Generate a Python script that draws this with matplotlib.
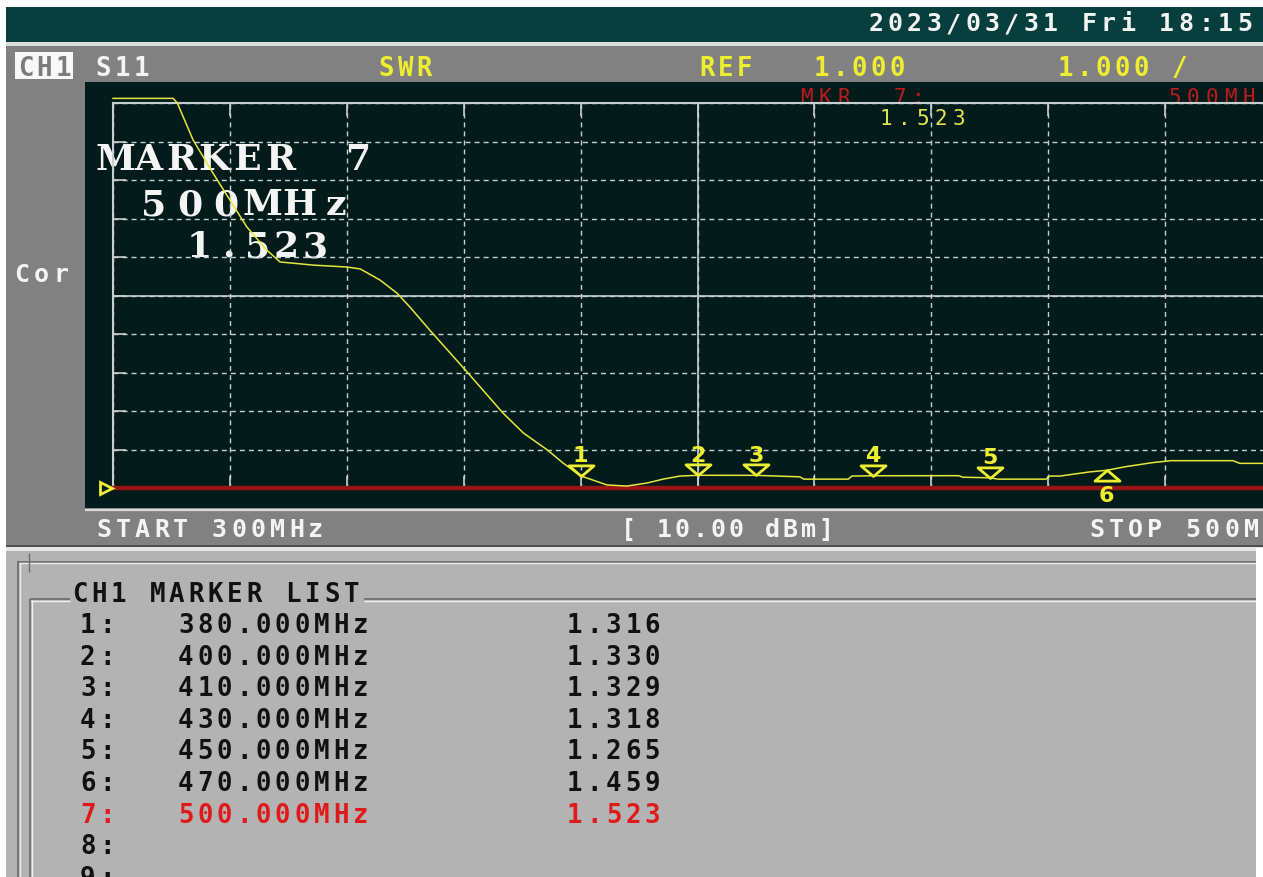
import numpy as np
import matplotlib
matplotlib.use("Agg")
import matplotlib.pyplot as plt
from matplotlib.patches import Rectangle
from matplotlib.path import Path
from matplotlib.transforms import offset_copy

# S11 SWR trace (MHz, SWR); the flat start is clipped by the display
freq = [300.0, 310.3, 311.0, 313.7, 317.1, 320.0, 322.9, 326.3, 328.6, 330.8,
        334.2, 340.0, 342.3, 345.7, 348.6, 350.8, 354.2, 360.6, 366.7, 370.2,
        374.3, 377.0, 380.0, 384.5, 387.9, 391.4, 394.1, 397.0, 400.0, 410.0,
        417.5, 418.2, 425.8, 426.4, 430.0, 444.7, 445.4, 450.0, 451.4, 459.6,
        460.3, 462.0, 467.2, 470.0, 473.1, 477.9, 481.0, 491.6, 492.8, 500.0]
swr = [11.12, 11.12, 11.0, 10.04, 9.18, 8.48, 7.78, 7.18, 6.87, 6.84,
       6.79, 6.74, 6.69, 6.40, 6.06, 5.70, 5.10, 4.01, 2.95, 2.43,
       1.99, 1.65, 1.316, 1.08, 1.05, 1.13, 1.23, 1.31, 1.330, 1.329,
       1.29, 1.23, 1.23, 1.31, 1.318, 1.32, 1.28, 1.265, 1.23, 1.23,
       1.31, 1.31, 1.42, 1.459, 1.55, 1.66, 1.71, 1.71, 1.64, 1.64]

mkr_no = [1, 2, 3, 4, 5, 6, 7]
mkr_freq = [380, 400, 410, 430, 450, 470, 500]
mkr_swr = [1.316, 1.330, 1.329, 1.318, 1.265, 1.459, 1.523]
mkr_up = [False, False, False, False, False, True, False]
active = 7

f_start, f_stop = 300, 500
ref_val, per_div, n_div = 1.0, 1.0, 10
power = "10.00 dBm"
date_str = "2023/03/31 Fri 18:15"

W, H = 1263, 877
TEAL = "#073f3f"
GRAY = "#818181"
LIGHT = "#b3b3b3"
PANEL = "#031b1b"
GRID = "#c6cece"
YEL = "#eeee30"
WHITE = "#f4f4f4"
RED = "#e01a1a"
MONO = "DejaVu Sans Mono"

fig = plt.figure(figsize=(W / 100, H / 100), dpi=100, facecolor="white")
ov = fig.add_axes([0, 0, 1, 1])
ov.set_xlim(0, W)
ov.set_ylim(H, 0)
ov.axis("off")


def box(x0, y0, x1, y1, c):
    ov.add_patch(Rectangle((x0, y0), x1 - x0, y1 - y0, color=c, lw=0))


def line(xs, ys, c, lw=1.2):
    ov.plot(xs, ys, color=c, lw=lw, solid_capstyle="butt")


def mono(x, y, s, pitch, color, size, weight="bold", family=MONO):
    # instrument font is fixed pitch, so place one glyph per cell
    for i, ch in enumerate(s):
        if ch.strip():
            ov.text(x + (i + 0.5) * pitch, y, ch, ha="center", va="baseline",
                    color=color, fontsize=size, fontweight=weight, family=family)


# screen chrome
box(6, 7, W, 42, TEAL)
box(6, 42, W, 46, "#dcdcdc")
box(6, 46, W, 545, GRAY)
box(85, 82, W, 508, PANEL)
line([85, W], [509.5, 509.5], "#dadada", 1.6)
box(6, 545, W, 547, "#505050")
box(6, 547, W, 551, "#e6e6e6")
box(6, 551, W, H, LIGHT)
box(1256, 548, W, H, "white")

# marker list frame
line([18, 18], [561, H], "#6a6a6a", 1.2)
line([19.5, 19.5], [562, H], "#ececec", 1.0)
line([18, 1256], [561.5, 561.5], "#6a6a6a", 1.2)
line([19, 1256], [563, 563], "#ececec", 1.0)
line([29, 29], [553, 572], "#6a6a6a", 1.0)
for seg in ([30, 70], [364, 1256]):
    line(seg, [599, 599], "#6a6a6a", 1.2)
    line(seg, [600.6, 600.6], "#f0f0f0", 1.0)
line([30, 30], [599, H], "#6a6a6a", 1.2)
line([31.6, 31.6], [600, H], "#f0f0f0", 1.0)

# header and status texts
mono(866, 31, date_str, 19.4, WHITE, 18)
box(15, 52, 73, 79, "#f8f8f8")
mono(16, 76, "CH1", 19, "#7c7c7c", 18.5)
mono(94, 76, "S11", 19, WHITE, 18.5)
mono(377, 76, "SWR", 19, YEL, 18.5)
mono(698, 76, "REF", 18.5, YEL, 18.5)
mono(812, 76, f"{ref_val:.3f}", 19, YEL, 18.5)
mono(1056, 76, f"{per_div:.3f} /", 19, YEL, 18.5)
mono(12, 282, "Cor", 19.5, WHITE, 18)
mono(94, 537, f"START {f_start}MHz", 19.3, WHITE, 18)
mono(619, 537, f"[ {power}]", 18, WHITE, 18)
mono(1087, 537, f"STOP {f_stop}MHz", 19.3, WHITE, 18)

# active marker readout
ia = mkr_no.index(active)
mono(797, 104, f"MKR  {active}:", 18.7, "#b81c1c", 15, weight="normal")
mono(1165, 104, f"{mkr_freq[ia]}MHz", 18.7, "#b81c1c", 15, weight="normal")
mono(877, 125, f"{mkr_swr[ia]:.3f}", 18.2, "#e4e450", 15, weight="normal")

big = dict(color=WHITE, size=26, weight="bold", family="DejaVu Serif")
mono(99, 170, "MARKER", 33, **big)
mono(344, 170, f"{active}", 28, **big)
mono(135, 215, f"{mkr_freq[ia]}MHz", 36.5, **big)
mono(185, 257, f"{mkr_swr[ia]:.3f}", 29, **big)

# marker list
lst = dict(size=18.5)
mono(70, 602, "CH1 MARKER LIST", 19.4, "#111111", **lst)
for i in range(9):
    yb = 633 + 31.6 * i
    c = RED if i + 1 == active else "#111111"
    mono(78, yb, f"{i + 1}:", 19.4, c, **lst)
    if i < len(mkr_no):
        mono(176, yb, f"{mkr_freq[i]:.3f}MHz", 19.4, c, **lst)
        mono(565, yb, f"{mkr_swr[i]:.3f}", 19.4, c, **lst)

# graticule, grid box in pixels: x 113..1282 (past the screen edge), y 103..488
gx0, gx1, gy0, gy1 = 113, 1282, 103, 488
ax = fig.add_axes([gx0 / W, 1 - gy1 / H, (gx1 - gx0) / W, (gy1 - gy0) / H])
ax.set_facecolor("none")
ax.set_xlim(f_start, f_stop)
ax.set_ylim(ref_val, ref_val + n_div * per_div)
ax.set_xticks(np.linspace(f_start, f_stop, n_div + 1))
ax.set_yticks(ref_val + per_div * np.arange(n_div + 1))
ax.grid(True, color=GRID, lw=1.0, ls=(0, (3.6, 2.9)))
ax.tick_params(direction="in", length=9, width=1.2, colors=GRID, top=True, right=True,
               labelbottom=False, labelleft=False)
for s in ax.spines.values():
    s.set_color(GRID)
    s.set_linewidth(1.5)
ax.axvline((f_start + f_stop) / 2, color=GRID, lw=1.2)
ax.axhline(ref_val + per_div * n_div / 2, color=GRID, lw=1.2)
ax.axhline(ref_val, color="#9a1616", lw=3.2, zorder=3, clip_on=False)

tr = offset_copy(ax.transData, fig=fig, x=-7, y=0, units="dots")
ax.plot([f_start], [ref_val], marker=">", ms=8, mfc="none", mec=YEL, mew=2,
        transform=tr, clip_on=False, zorder=4)

ax.plot(freq, swr, color="#e6e63a", lw=1.1, clip_on=False, zorder=4)

down = Path([(0, 0), (-1, 0.85), (1, 0.85), (0, 0)],
            [Path.MOVETO, Path.LINETO, Path.LINETO, Path.CLOSEPOLY])
up = Path([(0, 0), (-1, -0.85), (1, -0.85), (0, 0)],
          [Path.MOVETO, Path.LINETO, Path.LINETO, Path.CLOSEPOLY])
for n, f, v, is_up in zip(mkr_no, mkr_freq, mkr_swr, mkr_up):
    ax.plot([f], [v], marker=up if is_up else down, ms=18, mfc="none", mec=YEL,
            mew=2.0, ls="none", clip_on=False, zorder=5)
    ax.annotate(str(n), xy=(f, v), xytext=(0, -23 if is_up else 9.8),
                textcoords="offset points", ha="center", va="baseline",
                color=YEL, fontsize=16, fontweight="bold", annotation_clip=False)

fig.savefig("out.png", dpi=100, facecolor="white")
